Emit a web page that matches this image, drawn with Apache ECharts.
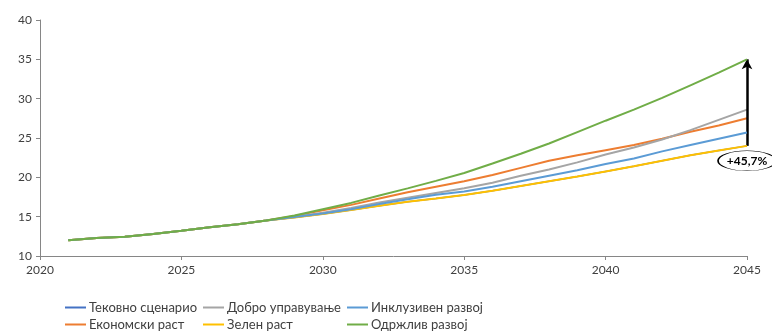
<!DOCTYPE html>
<html>
<head>
<meta charset="utf-8">
<script src="https://cdn.jsdelivr.net/npm/echarts@6/dist/echarts.min.js"></script>
<style>
  html, body { margin: 0; padding: 0; background: #fff; }
  #main { width: 772px; height: 334px; }
</style>
</head>
<body>
<div id="main"></div>
<script>
const years = [2021, 2022, 2023, 2024, 2025, 2026, 2027, 2028, 2029, 2030, 2031, 2032, 2033,
  2034, 2035, 2036, 2037, 2038, 2039, 2040, 2041, 2042, 2043, 2044, 2045];

// the baseline sits underneath "Зелен раст" and is not visible in the original
const tekovno = [12.0, 12.3, 12.45, 12.8, 13.2, 13.65, 14.05, 14.5, 14.9, 15.35, 15.85, 16.4, 16.9,
  17.3, 17.75, 18.3, 18.9, 19.5, 20.1, 20.75, 21.4, 22.1, 22.8, 23.4, 24.0];
const ekonomski = [12.0, 12.3, 12.45, 12.8, 13.2, 13.65, 14.05, 14.5, 15.1, 15.8, 16.5, 17.3, 18.1,
  18.8, 19.5, 20.3, 21.2, 22.1, 22.8, 23.45, 24.1, 24.9, 25.8, 26.6, 27.5];
const dobro = [12.0, 12.3, 12.45, 12.8, 13.2, 13.65, 14.05, 14.5, 15.0, 15.5, 16.1, 16.8, 17.4,
  18.0, 18.6, 19.3, 20.2, 21.0, 21.9, 22.9, 23.8, 24.8, 26.0, 27.3, 28.6];
const zelen = [12.0, 12.3, 12.45, 12.8, 13.2, 13.65, 14.05, 14.5, 14.9, 15.35, 15.85, 16.4, 16.9,
  17.3, 17.75, 18.3, 18.9, 19.5, 20.1, 20.75, 21.4, 22.1, 22.8, 23.4, 24.0];
const inkluziven = [12.0, 12.3, 12.45, 12.8, 13.2, 13.65, 14.05, 14.5, 14.95, 15.4, 15.95, 16.6, 17.2,
  17.8, 18.2, 18.8, 19.5, 20.2, 20.9, 21.7, 22.4, 23.3, 24.1, 24.9, 25.7];
const odrzliv = [12.0, 12.3, 12.45, 12.8, 13.2, 13.65, 14.05, 14.5, 15.15, 15.95, 16.75, 17.7, 18.6,
  19.55, 20.55, 21.75, 23.0, 24.3, 25.75, 27.2, 28.6, 30.1, 31.7, 33.3, 35.0];

const seriesNames = ['Тековно сценарио', 'Економски раст', 'Добро управување',
  'Зелен раст', 'Инклузивен развој', 'Одржлив развој'];
const seriesColors = ['#4472C4', '#ED7D31', '#A5A5A5', '#FFC000', '#5B9BD5', '#70AD47'];
const seriesValues = [tekovno, ekonomski, dobro, zelen, inkluziven, odrzliv];

const arrowFrom = 24.0;
const arrowTo = 35.0;
const arrowYear = 2045;
const arrowLabel = '+45,7%';
const labelValue = 22.1;

const font = 'Lato, "Open Sans", sans-serif';
const textColor = '#404040';
const axisColor = '#868686';

// legend slots, row-wise like the original
const legendSlots = [
  { name: 'Тековно сценарио', left: 65, top: 301 },
  { name: 'Добро управување', left: 203, top: 301 },
  { name: 'Инклузивен развој', left: 347, top: 301 },
  { name: 'Економски раст', left: 65, top: 318 },
  { name: 'Зелен раст', left: 203, top: 318 },
  { name: 'Одржлив развој', left: 347, top: 318 }
];

const chart = echarts.init(document.getElementById('main'), null, { renderer: 'canvas' });

const series = seriesNames.map(function (name, i) {
  const s = {
    name: name,
    type: 'line',
    data: years.map(function (y, j) { return [y, seriesValues[i][j]]; }),
    symbol: 'none',
    smooth: false,
    lineStyle: { width: 2, color: seriesColors[i] },
    itemStyle: { color: seriesColors[i] },
    z: 2 + i
  };
  if (name === 'Тековно сценарио') {
    s.lineStyle.width = 1.5;
  }
  if (name === 'Одржлив развој') {
    s.markLine = {
      silent: true,
      symbol: ['none', 'arrow'],
      symbolSize: [8, 10],
      lineStyle: { color: '#000', width: 2.5, type: 'solid' },
      label: { show: false },
      data: [[{ coord: [arrowYear, arrowFrom] }, { coord: [arrowYear, arrowTo] }]]
    };
    s.markPoint = {
      silent: true,
      symbol: 'path://M0,1 C0,0.448 0.448,0 1,0 C1.552,0 2,0.448 2,1 C2,1.552 1.552,2 1,2 C0.448,2 0,1.552 0,1 Z',
      symbolSize: [58, 20],
      itemStyle: { color: '#fff', borderColor: '#000', borderWidth: 1 },
      label: {
        show: true,
        formatter: arrowLabel,
        color: '#000',
        fontWeight: 'bold',
        fontSize: 12,
        fontFamily: font
      },
      data: [{ coord: [arrowYear, labelValue] }]
    };
  }
  return s;
});

const option = {
  backgroundColor: '#fff',
  animation: false,
  grid: { left: 40, right: 25, top: 20, bottom: 78, containLabel: false },
  legend: legendSlots.map(function (slot) {
    return {
      data: [slot.name],
      left: slot.left,
      top: slot.top,
      icon: 'rect',
      itemWidth: 21,
      itemHeight: 2,
      itemGap: 0,
      padding: 0,
      selectedMode: false,
      textStyle: { color: textColor, fontSize: 13, fontFamily: font, padding: [0, 0, 0, -2] }
    };
  }),
  xAxis: {
    type: 'value',
    min: 2020,
    max: 2045,
    interval: 5,
    splitLine: { show: false },
    axisLine: { show: true, lineStyle: { color: axisColor, width: 1 } },
    axisTick: { show: true, length: 4, lineStyle: { color: axisColor } },
    axisLabel: {
      color: textColor, fontSize: 12, fontFamily: font, margin: 8,
      formatter: function (v) { return String(v); }
    }
  },
  yAxis: {
    type: 'value',
    min: 10,
    max: 40,
    interval: 5,
    splitLine: { show: false },
    axisLine: { show: true, lineStyle: { color: axisColor, width: 1 } },
    axisTick: { show: true, length: 4, lineStyle: { color: axisColor } },
    axisLabel: { color: textColor, fontSize: 12, fontFamily: font, margin: 8 }
  },
  series: series
};

chart.setOption(option);
</script>
</body>
</html>
